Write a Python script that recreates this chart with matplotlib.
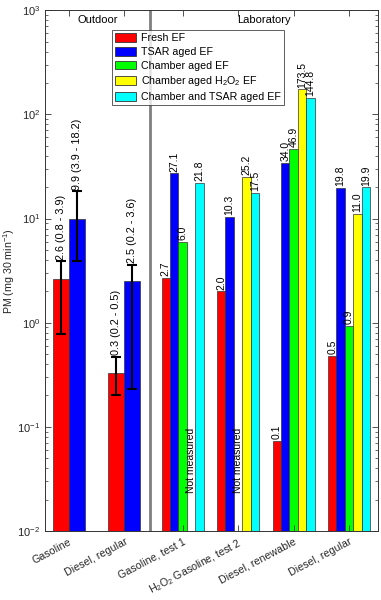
import numpy as np
import matplotlib.pyplot as plt
from matplotlib.transforms import blended_transform_factory

plt.rcParams['font.family'] = ['Liberation Sans', 'DejaVu Sans']
plt.rcParams['mathtext.fontset'] = 'custom'
plt.rcParams['mathtext.rm'] = 'Liberation Sans'
plt.rcParams['mathtext.it'] = 'Liberation Sans:italic'

# outdoor data (fresh and TSAR aged, with ranges)
out_names = ['Gasoline', 'Diesel, regular']
out_fresh = [2.6, 0.33]
out_fresh_lo = [0.78, 0.2]
out_fresh_hi = [3.9, 0.47]
out_tsar = [9.9, 2.5]
out_tsar_lo = [3.9, 0.23]
out_tsar_hi = [18.2, 3.6]

# laboratory data, None = not measured
lab_names = ['Gasoline, test 1', 'H$_2$O$_2$ Gasoline, test 2',
             'Diesel, renewable', 'Diesel, regular']
lab_fresh = [2.7, 2.0, 0.073, 0.48]
lab_tsar = [27.1, 10.3, 34.0, 19.8]
lab_chamber = [6.0, None, 46.9, 0.93]
lab_h2o2 = [None, 25.2, 173.5, 11.0]
lab_chamber_tsar = [21.8, 17.5, 144.8, 19.9]

series_names = ['Fresh EF', 'TSAR aged EF', 'Chamber aged EF',
                'Chamber aged H$_2$O$_2$ EF', 'Chamber and TSAR aged EF']
colors = ['#ff0000', '#0000ff', '#00ff00', '#ffff00', '#00ffff']

out_x = np.array([1.0, 2.0])
lab_x = np.array([3.05, 4.05, 5.05, 6.05])
divider = 2.46

fig = plt.figure(figsize=(3.81, 6.0), dpi=100)
ax = fig.add_axes([0.118, 0.115, 0.874, 0.868])

txtcol = '#262626'

# outdoor bars
w_out = 0.29
ax.bar(out_x - w_out / 2, out_fresh, w_out, color=colors[0], edgecolor='#333333', linewidth=0.5)
ax.bar(out_x + w_out / 2, out_tsar, w_out, color=colors[1], edgecolor='#333333', linewidth=0.5)
for xs, v, lo, hi in [(out_x - w_out / 2, out_fresh, out_fresh_lo, out_fresh_hi),
                      (out_x + w_out / 2, out_tsar, out_tsar_lo, out_tsar_hi)]:
    v = np.array(v); lo = np.array(lo); hi = np.array(hi)
    ax.errorbar(xs, v, yerr=[v - lo, hi - v], fmt='none', ecolor='black',
                elinewidth=1.5, capsize=3.5, capthick=1.5)
    for xi, vi, l, h in zip(xs, v, lo, hi):
        ax.text(xi, h * 1.03, '%.1f (%.1f - %.1f)' % (vi, l, h), rotation=90,
                ha='center', va='bottom', fontsize=7.8, color='black')

# laboratory bars
w_lab = 0.152
lab_series = [lab_fresh, lab_tsar, lab_chamber, lab_h2o2, lab_chamber_tsar]
for i, vals in enumerate(lab_series):
    xs = lab_x + (i - 2) * w_lab
    for xi, v in zip(xs, vals):
        if v is None:
            ax.text(xi, 0.098, 'Not measured', rotation=90, ha='center', va='top',
                    fontsize=7.5, color='black')
            continue
        ax.bar(xi, v, w_lab, color=colors[i], edgecolor='#333333', linewidth=0.5)
        ax.text(xi, v * 1.04, '%.1f' % v, rotation=90, ha='center', va='bottom',
                fontsize=7.5, color='black')

ax.set_yscale('log')
ax.set_ylim(1e-2, 1e3)
ax.set_xlim(0.57, 6.57)
ax.axvline(divider, color='#7f7f7f', linewidth=2)

ax.set_xticks(np.concatenate([out_x, lab_x]))
ax.set_xticklabels(out_names + lab_names, rotation=28, ha='right', va='top',
                   rotation_mode='anchor', fontsize=7.7, color=txtcol)
ax.set_ylabel('PM (mg 30 min$^{-1}$)', fontsize=7.7, color=txtcol)
ax.yaxis.set_label_coords(-0.083, 0.5)
ax.tick_params(axis='both', which='both', direction='in', top=True, right=True,
               colors='#333333', labelcolor=txtcol, labelsize=8)
ax.tick_params(axis='x', labelsize=7.7)
ax.tick_params(axis='both', which='major', length=4, width=0.6)
ax.tick_params(axis='y', which='minor', length=2, width=0.5)
ax.tick_params(axis='x', which='major', pad=4)
for s in ax.spines.values():
    s.set_color('#333333')
    s.set_linewidth(0.7)

trans = blended_transform_factory(ax.transData, ax.transAxes)
ax.text((0.57 + divider) / 2, 0.982, 'Outdoor', transform=trans, ha='center', va='center',
        fontsize=8, color='black')
ax.text((divider + 6.57) / 2, 0.982, 'Laboratory', transform=trans, ha='center', va='center',
        fontsize=8, color='black')

handles = [plt.Rectangle((0, 0), 1, 1, facecolor=c, edgecolor='#333333', linewidth=0.6)
           for c in colors]
leg = ax.legend(handles, series_names, loc='upper left', bbox_to_anchor=(0.201, 0.962),
                borderaxespad=0, fontsize=7.7, frameon=True, fancybox=False,
                handlelength=2.0, handleheight=0.9, handletextpad=0.4,
                labelspacing=0.33, borderpad=0.3)
leg.get_frame().set_edgecolor('#333333')
leg.get_frame().set_linewidth(0.7)

fig.savefig('out.png', dpi=100)
